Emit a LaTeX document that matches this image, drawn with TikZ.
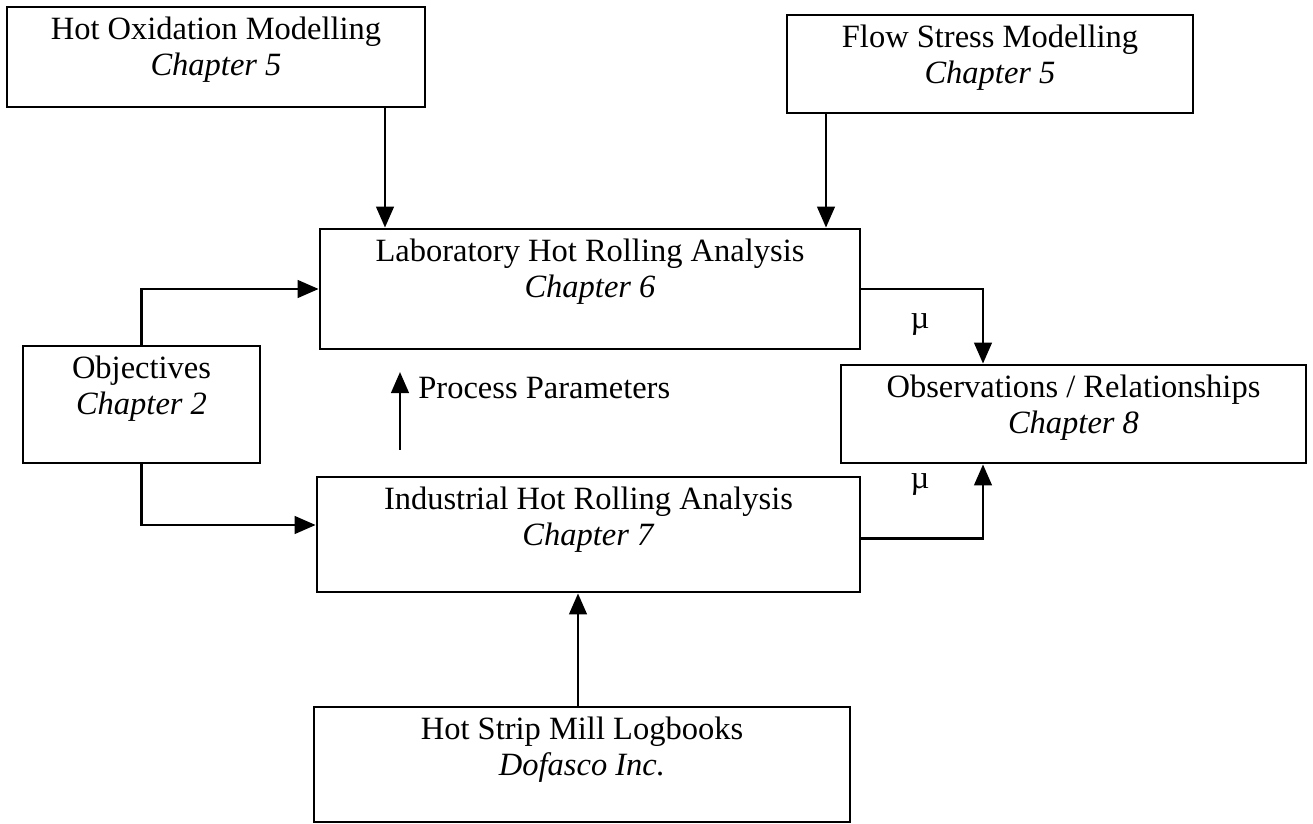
\documentclass[tikz,border=0pt]{standalone}
\usepackage{fontspec}
\setmainfont{Liberation Serif}
\usetikzlibrary{arrows.meta, positioning}

\begin{document}
\begin{tikzpicture}[
    x=0.02cm, y=-0.02cm,
    box/.style={draw, line width=1.6pt, inner sep=0pt},
    boxtxt/.style={align=center, inner sep=0pt, font=\fontsize{18.5}{21}\selectfont},
    arrow/.style={-{Triangle[length=12pt, width=10pt]}, line width=1.6pt},
    lbl/.style={inner sep=0pt, font=\fontsize{18.5}{21}\selectfont}
]
\useasboundingbox (0,0) rectangle (1313,824);

% boxes
\node[box, minimum width=8.36cm,  minimum height=2.0cm]  (hotox) at (216,57)     {};
\node[box, minimum width=8.12cm,  minimum height=1.96cm] (flow)  at (990,64)     {};
\node[box, minimum width=10.8cm,  minimum height=2.4cm]  (lab)   at (590,289)    {};
\node[box, minimum width=4.74cm,  minimum height=2.34cm] (obj)   at (141.5,404.5) {};
\node[box, minimum width=9.3cm,   minimum height=1.96cm] (obs)   at (1073.5,414) {};
\node[box, minimum width=10.86cm, minimum height=2.3cm]  (ind)   at (588.5,534.5) {};
\node[box, minimum width=10.72cm, minimum height=2.3cm]  (hsm)   at (582,764.5)  {};

% box texts
\node[boxtxt, below=6pt of hotox.north] (hotoxtxt) {Hot Oxidation Modelling\\\textit{Chapter 5}};
\node[boxtxt, below=6pt of flow.north]  (flowtxt)  {Flow Stress Modelling\\\textit{Chapter 5}};
\node[boxtxt, below=6pt of lab.north]   (labtxt)   {Laboratory Hot Rolling Analysis\\\textit{Chapter 6}};
\node[boxtxt, below=6pt of obj.north]   (objtxt)   {Objectives\\\textit{Chapter 2}};
\node[boxtxt, below=6pt of obs.north]   (obstxt)   {Observations / Relationships\\\textit{Chapter 8}};
\node[boxtxt, below=6pt of ind.north]   (indtxt)   {Industrial Hot Rolling Analysis\\\textit{Chapter 7}};
\node[boxtxt, below=6pt of hsm.north]   (hsmtxt)   {Hot Strip Mill Logbooks\\\textit{Dofasco Inc.}};

% where the vertical links run
\coordinate (xa) at (385,0);
\coordinate (xb) at (826,0);
\coordinate (xr) at (983,0);
\coordinate (xh) at (578,0);

\draw[arrow] (hotox.south -| xa) -- (lab.north -| xa);
\draw[arrow] (flow.south -| xb)  -- (lab.north -| xb);
\draw[arrow] (obj.north) |- (lab.west);
\draw[arrow] (obj.south) |- ([yshift=0.19cm]ind.west);
\draw[arrow] (lab.east) -| (obs.north -| xr);
\draw[arrow] ([yshift=-0.08cm]ind.east) -| (obs.south -| xr);
\draw[arrow] (hsm.north -| xh) -- (ind.south -| xh);

\node[lbl] (mu1) at (920,325) {µ};
\node[lbl] (mu2) at (920,484) {µ};

% process parameters
\coordinate (pptail) at (400,450);
\coordinate (pphead) at (400,372);
\draw[arrow] (pptail) -- (pphead);
\node[lbl, anchor=west] (pp) at (418,388) {Process Parameters};
\end{tikzpicture}
\end{document}
